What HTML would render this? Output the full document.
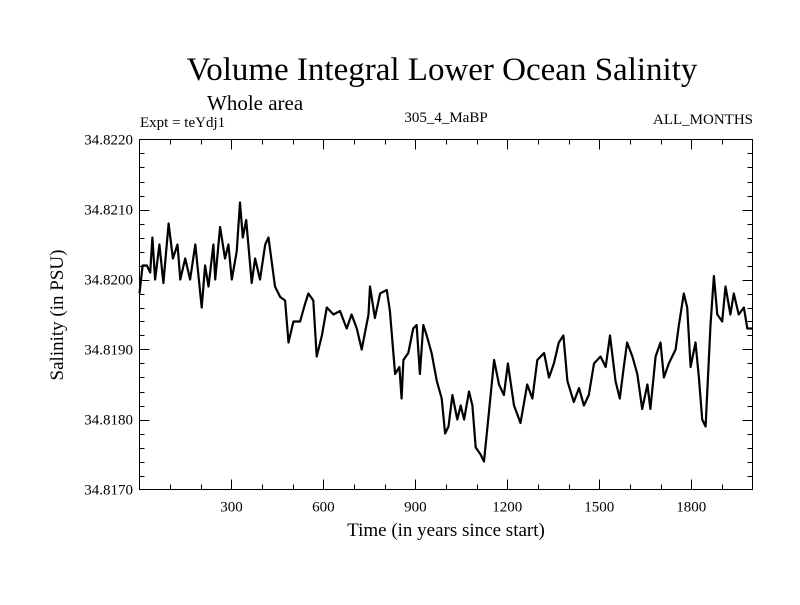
<!DOCTYPE html>
<html><head><meta charset="utf-8"><style>
body{margin:0;background:#fff;width:800px;height:600px;overflow:hidden}
svg text{font-family:"Liberation Serif",serif;fill:#000}
</style></head><body>
<svg id="chart" width="800" height="600" viewBox="0 0 800 600">
<text x="442" y="80" font-size="33" text-anchor="middle">Volume Integral Lower Ocean Salinity</text>
<text x="207" y="110" font-size="21">Whole area</text>
<text x="140" y="127" font-size="15">Expt = teYdj1</text>
<text x="446" y="122" font-size="15" text-anchor="middle">305_4_MaBP</text>
<text x="753" y="124" font-size="15" text-anchor="end">ALL_MONTHS</text>
<text transform="translate(63,315) rotate(-90)" font-size="19" text-anchor="middle">Salinity (in PSU)</text>
<text x="446" y="536" font-size="19" text-anchor="middle">Time (in years since start)</text>
<g id="axes"></g>
<rect x="139.5" y="139.5" width="613" height="350" fill="none" stroke="#000" stroke-width="1"/>
<polyline id="series" fill="none" stroke="#000" stroke-width="2.2" stroke-linejoin="round"/>
</svg>
<script>
const years=[0,10,24,35,42,51,65,78,95,109,124,133,149,165,182,203,214,225,241,247,263,279,290,301,317,328,337,348,366,377,393,410,421,442,459,475,486,502,524,540,551,567,578,595,611,633,654,676,692,709,725,747,752,768,785,807,817,834,848,855,861,877,893,904,915,926,937,953,970,986,997,1008,1021,1037,1048,1059,1075,1086,1097,1113,1124,1140,1157,1173,1189,1202,1222,1243,1265,1282,1298,1320,1336,1352,1368,1383,1396,1417,1434,1450,1466,1483,1504,1521,1535,1553,1567,1580,1591,1608,1624,1640,1657,1667,1684,1700,1711,1727,1749,1760,1776,1787,1798,1814,1825,1836,1847,1863,1874,1885,1901,1912,1928,1939,1955,1972,1983,2000];
const offsets=[28,32,32,31,36,30,35,29.5,38,33,35,30,33,30,35,26,32,29,35,30,37.5,33,35,30,34,41,36,38.5,29.5,33,30,35,36,29,27.5,27,21,24,24,26.5,28,27,19,22,26,25,25.5,23,25,23,20,25,29,24.5,28,28.5,25.5,16.5,17.5,13,18.5,19.5,23,23.5,16.5,23.5,22,19.5,15.5,13,8,9,13.5,10,12,10,14,12,6,5,4,11,18.5,15,13.5,18,12,9.5,15,13,18.5,19.5,16,18,21,22,15.5,12.5,14.5,12,13.5,18,19,17.5,22,15.5,13,17.5,21,19,16.5,11.5,15,11.5,19,21,16,18,20,23.5,28,26,17.5,21,16,10,9,23.5,30.5,25,24,29,25,28,25,26,23,23];
const yBase=34.817, yUnit=0.0001;
const yTicks=["34.8170","34.8180","34.8190","34.8200","34.8210","34.8220"];
const xTicks=[300,600,900,1200,1500,1800];
const L=139.5,R=752.5,T=139.5,B=489.5,X0=0,X1=2000,Y0=34.817,Y1=34.822;
const sx=v=>L+(v-X0)/(X1-X0)*(R-L);
const sy=v=>B-(v-Y0)/(Y1-Y0)*(B-T);
const ns="http://www.w3.org/2000/svg";
const g=document.getElementById('axes');
function line(x1,y1,x2,y2,name){const l=document.createElementNS(ns,'line');l.setAttribute('x1',x1);l.setAttribute('y1',y1);l.setAttribute('x2',x2);l.setAttribute('y2',y2);l.setAttribute('stroke','#000');l.setAttribute('stroke-width','1');


g.appendChild(l);}
for(let yr=100;yr<2000;yr+=100){const x=Math.round(sx(yr))+0.5;const len=yr%300===0?10:5;line(x,B,x,B-len,'x-tick');line(x,T,x,T+len,'x-tick-top');}
for(let i=1;i<25;i++){const v=Y0+i*0.0002;const y=Math.round(sy(v))+0.5;const len=i%5===0?10:5;line(L,y,L+len,y,'y-tick');line(R,y,R-len,y,'y-tick-right');}
xTicks.forEach(t=>{const e=document.createElementNS(ns,'text');e.setAttribute('x',sx(t));e.setAttribute('y',B+22);e.setAttribute('font-size','15');e.setAttribute('text-anchor','middle');e.textContent=t;


g.appendChild(e);});
yTicks.forEach(t=>{const e=document.createElementNS(ns,'text');e.setAttribute('x',133);e.setAttribute('y',sy(parseFloat(t))+5);e.setAttribute('font-size','15');e.setAttribute('text-anchor','end');e.textContent=t;


g.appendChild(e);});
document.getElementById('series').setAttribute('points',years.map((yr,i)=>sx(yr).toFixed(1)+','+sy(yBase+offsets[i]*yUnit).toFixed(1)).join(' '));
</script>
</body></html>
